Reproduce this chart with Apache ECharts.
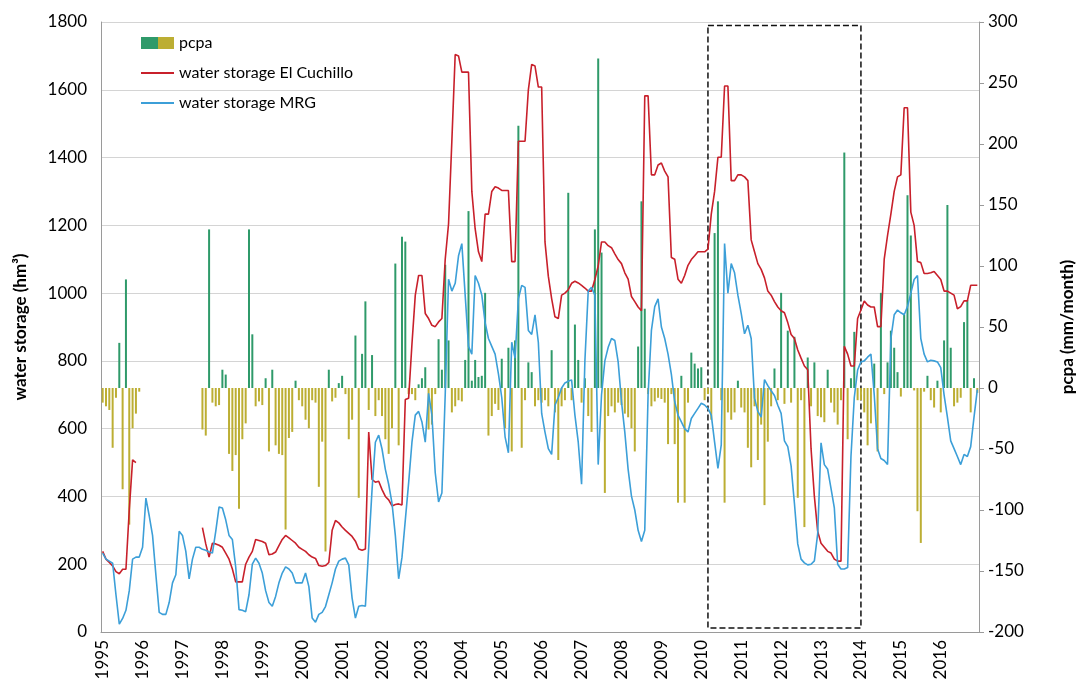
<!DOCTYPE html>
<html>
<head>
<meta charset="utf-8">
<script src="https://cdn.jsdelivr.net/npm/echarts/dist/echarts.min.js"></script>
<style>
  html, body { margin: 0; padding: 0; background: #fff; }
  #chart { width: 1084px; height: 698px; }
</style>
</head>
<body>
<div id="chart"></div>
<script>
const years = [1995, 1996, 1997, 1998, 1999, 2000, 2001, 2002, 2003, 2004, 2005,
  2006, 2007, 2008, 2009, 2010, 2011, 2012, 2013, 2014, 2015, 2016];

// monthly water storage MRG (hm3), one row per year
const mrgStorage = [
  233, 215, 209, 203, 110, 23, 40, 64, 122, 215, 221, 221,
  250, 395, 343, 285, 169, 58, 52, 52, 87, 145, 169, 297,
  285, 238, 157, 215, 250, 250, 244, 241, 236, 233, 297, 369,
  366, 331, 285, 273, 192, 66, 64, 60, 110, 200, 218, 203,
  174, 122, 87, 76, 105, 145, 174, 192, 186, 174, 145, 145,
  145, 174, 134, 41, 29, 52, 58, 75, 110, 145, 186, 209,
  215, 218, 198, 100, 41, 76, 78, 76, 250, 420, 560, 581,
  540, 480, 436, 380, 285, 157, 220, 330, 440, 560, 640, 651,
  620, 560, 704, 640, 470, 384, 410, 700, 1041, 1006, 1029, 1110,
  1146, 994, 843, 820, 1052, 1029, 994, 913, 866, 843, 820, 762,
  692, 576, 529, 855, 808, 983, 1023, 1017, 890, 878, 936, 855,
  645, 590, 541, 524, 669, 692, 720, 735, 740, 744, 640, 560,
  436, 800, 1006, 1017, 994, 494, 700, 800, 840, 866, 860, 797,
  680, 590, 480, 401, 360, 300, 267, 300, 700, 890, 960, 983,
  900, 866, 820, 760, 680, 640, 620, 600, 590, 630, 645, 660,
  675, 670, 660, 640, 560, 483, 552, 1146, 1000, 1087, 1060, 994,
  940, 880, 905, 866, 690, 651, 634, 745, 727, 712, 698, 669,
  645, 564, 547, 490, 380, 260, 215, 204, 198, 200, 210, 290,
  558, 494, 480, 424, 366, 200, 186, 186, 190, 518, 692, 773,
  797, 800, 811, 820, 700, 541, 512, 506, 494, 866, 936, 950,
  942, 936, 960, 1000, 1040, 1052, 866, 820, 797, 802, 800, 797,
  780, 700, 634, 564, 541, 518, 494, 524, 518, 547, 634, 715
];

// monthly water storage El Cuchillo (hm3), gaps where no record
const cuchilloStorage = [
  238, 215, 205, 195, 178, 172, 185, 185, 360, 508, 500, null,
  null, null, null, null, null, null, null, null, null, null, null, null,
  null, null, null, null, null, null, 308, 260, 221, 262, 260, 256,
  250, 233, 215, 186, 148, 148, 148, 200, 221, 238, 273, 270,
  267, 262, 228, 230, 236, 255, 273, 285, 278, 270, 262, 250,
  244, 238, 228, 221, 217, 196, 194, 196, 205, 300, 329, 322,
  310, 300, 291, 282, 268, 245, 241, 245, 590, 450, 442, 445,
  420, 400, 390, 372, 376, 378, 375, 686, 690, 850, 994, 1052,
  1052, 940, 925, 905, 901, 915, 925, 1100, 1204, 1450, 1704, 1700,
  1652, 1652, 1652, 1300, 1190, 1122, 1093, 1233, 1233, 1300, 1314, 1310,
  1303, 1303, 1303, 1093, 1093, 1448, 1448, 1448, 1600, 1675, 1670, 1608,
  1608, 1151, 1050, 984, 930, 925, 994, 1000, 1010, 1029, 1035, 1030,
  1023, 1015, 1006, 1006, 1040, 1080, 1151, 1151, 1140, 1134, 1116, 1099,
  1087, 1060, 1041, 990, 975, 959, 948, 1582, 1582, 1349, 1349, 1378,
  1384, 1360, 1343, 1105, 1100, 1041, 1029, 1052, 1082, 1099, 1110, 1122,
  1122, 1122, 1130, 1233, 1300, 1401, 1401, 1611, 1611, 1332, 1332, 1349,
  1349, 1343, 1332, 1157, 1122, 1087, 1070, 1045, 1006, 994, 975, 959,
  948, 942, 913, 878, 866, 832, 808, 785, 774, 541, 400, 297,
  262, 250, 238, 233, 215, 209, 209, 843, 820, 785, 785, 925,
  950, 977, 965, 959, 959, 901, 901, 1100, 1170, 1233, 1300, 1343,
  1349, 1547, 1547, 1239, 1200, 1093, 1090, 1058, 1058, 1060, 1064, 1052,
  1040, 1006, 1006, 1000, 994, 954, 960, 977, 977, 1023, 1023, 1023
];

// monthly precipitation anomaly (mm/month)
const pcpa = [
  -12, -15, -18, -49, -8, 37, -83, 89, -112, -33, -21, -3,
  null, null, null, null, null, null, null, null, null, null, null, null,
  null, null, null, null, null, null, -34, -39, 130, -12, -15, -14,
  15, 11, -54, -68, -55, -99, -42, -29, 130, 44, -15, -11,
  -14, 8, -52, 15, -47, -54, -55, -116, -41, -36, 6, -10,
  -15, -26, -33, -10, -12, -81, -44, -134, 15, -11, -8, 4,
  10, -5, -42, -26, 43, -90, 28, 71, -18, 27, -23, -10,
  -23, -42, -54, -33, 102, -47, 124, 120, -5, -5, -10, 3,
  8, 17, -34, -30, -5, 40, 15, 101, 39, -20, -15, -10,
  -11, 23, 145, 6, 23, 9, 10, 78, -39, -23, -13, -18,
  24, -33, 33, -52, 39, 215, -49, -10, 21, 13, -15, -10,
  -12, -10, -15, 31, -20, -59, -15, -10, 160, -10, 52, 23,
  -12, 8, -23, -36, 130, 270, 111, -86, -23, -15, -20, -12,
  -14, -21, -24, -33, -52, 34, 153, 65, -5, -15, -11, -8,
  -9, -12, -46, -5, -46, -94, 10, -94, -12, 29, 20, 16,
  17, -10, -5, -26, 127, 153, -10, -94, -20, -26, -20, 6,
  -16, -20, -49, -65, -15, -59, -30, -96, -44, -15, 16, -10,
  78, -13, 47, -12, 42, -90, -10, -114, 25, -15, 21, -23,
  -24, -28, 15, -12, -20, -30, -10, 193, -42, 8, 46, -10,
  -10, -20, -47, -29, 20, -52, 78, -5, 21, 47, 33, 13,
  -7, 60, 158, 125, -2, -101, -127, -3, 10, -10, -16, 6,
  -20, 39, 150, 33, -15, -12, -8, 54, 72, -20, 8, -4
];

// dashed box around the 2010-2013 period (category labels)
const boxFrom = "2010-03";
const boxTo = "2014-01";

(() => {
  const months = [];
  years.forEach((y) => {
    for (let m = 1; m <= 12; m++) {
      months.push(y + "-" + (m < 10 ? "0" + m : m));
    }
  });

  const green = "#2f9a6a";
  const olive = "#bcae33";
  const red = "#c8202b";
  const blue = "#3c9fd8";
  // hides the dot the line legend icon draws, keeps the line
  const noDot = { color: "rgba(0,0,0,0)", borderColor: "rgba(0,0,0,0)", borderWidth: 0 };

  let myChart = echarts.init(document.querySelector("#chart"));
  let option = {
    animation: false,
    textStyle: { fontFamily: "Lato, 'Open Sans', sans-serif", color: "#000" },
    grid: { left: 101, right: 103, top: 22, bottom: 66 },
    legend: {
      orient: "vertical",
      left: 135,
      top: 30,
      itemGap: 14,
      itemWidth: 33,
      itemHeight: 12,
      textStyle: { fontSize: 16, color: "#000" },
      data: [
        {
          name: "pcpa",
          icon: "rect",
          itemStyle: {
            color: {
              type: "linear", x: 0, y: 0, x2: 1, y2: 0,
              colorStops: [
                { offset: 0, color: green },
                { offset: 0.5, color: green },
                { offset: 0.5, color: olive },
                { offset: 1, color: olive },
              ],
            },
          },
        },
        { name: "water storage El Cuchillo", itemStyle: noDot },
        { name: "water storage MRG", itemStyle: noDot },
      ],
    },
    xAxis: {
      type: "category",
      data: months,
      boundaryGap: true,
      axisLine: { lineStyle: { color: "#9a9a9a" } },
      axisTick: { show: false },
      axisLabel: {
        interval: (i) => i % 12 === 0,
        formatter: (v) => v.slice(0, 4),
        rotate: 90,
        fontSize: 17,
        color: "#000",
        margin: 8,
      },
    },
    yAxis: [
      {
        type: "value",
        position: "left",
        min: 0,
        max: 1800,
        interval: 200,
        name: "water storage (hm³)",
        nameLocation: "middle",
        nameRotate: 90,
        nameGap: 72,
        nameTextStyle: { fontSize: 17, fontWeight: "bold", color: "#000" },
        axisLine: { show: true, lineStyle: { color: "#9a9a9a" } },
        axisTick: { show: false },
        axisLabel: { fontSize: 17, color: "#000", margin: 14, formatter: (v) => String(v) },
        splitLine: { lineStyle: { color: "#d4d4d4" } },
      },
      {
        type: "value",
        position: "right",
        min: -200,
        max: 300,
        interval: 50,
        name: "pcpa (mm/month)",
        nameLocation: "middle",
        nameRotate: 90,
        nameGap: 80,
        nameTextStyle: { fontSize: 17, fontWeight: "bold", color: "#000" },
        axisLine: { show: true, lineStyle: { color: "#9a9a9a" } },
        axisTick: { show: true, length: 5, lineStyle: { color: "#9a9a9a" } },
        axisLabel: { fontSize: 17, color: "#000", margin: 9 },
        splitLine: { show: false },
      },
    ],
    series: [
      {
        name: "pcpa",
        type: "bar",
        yAxisIndex: 1,
        data: pcpa,
        barWidth: 2,
        itemStyle: {
          color: (p) => (p.value >= 0 ? green : olive),
        },
      },
      {
        name: "water storage El Cuchillo",
        type: "line",
        data: cuchilloStorage,
        symbol: "none",
        connectNulls: false,
        lineStyle: { color: red, width: 1.6 },
        itemStyle: { color: red },
        markArea: {
          silent: true,
          itemStyle: {
            color: "rgba(0,0,0,0)",
            borderColor: "#111",
            borderWidth: 1.5,
            borderType: "dashed",
          },
          data: [[{ xAxis: boxFrom, yAxis: 1790 }, { xAxis: boxTo, yAxis: 12 }]],
        },
      },
      {
        name: "water storage MRG",
        type: "line",
        data: mrgStorage,
        symbol: "none",
        lineStyle: { color: blue, width: 1.6 },
        itemStyle: { color: blue },
      },
    ],
  };
  myChart.setOption(option);
  window.addEventListener("resize", () => {
    myChart.resize();
  });
})();
</script>
</body>
</html>
